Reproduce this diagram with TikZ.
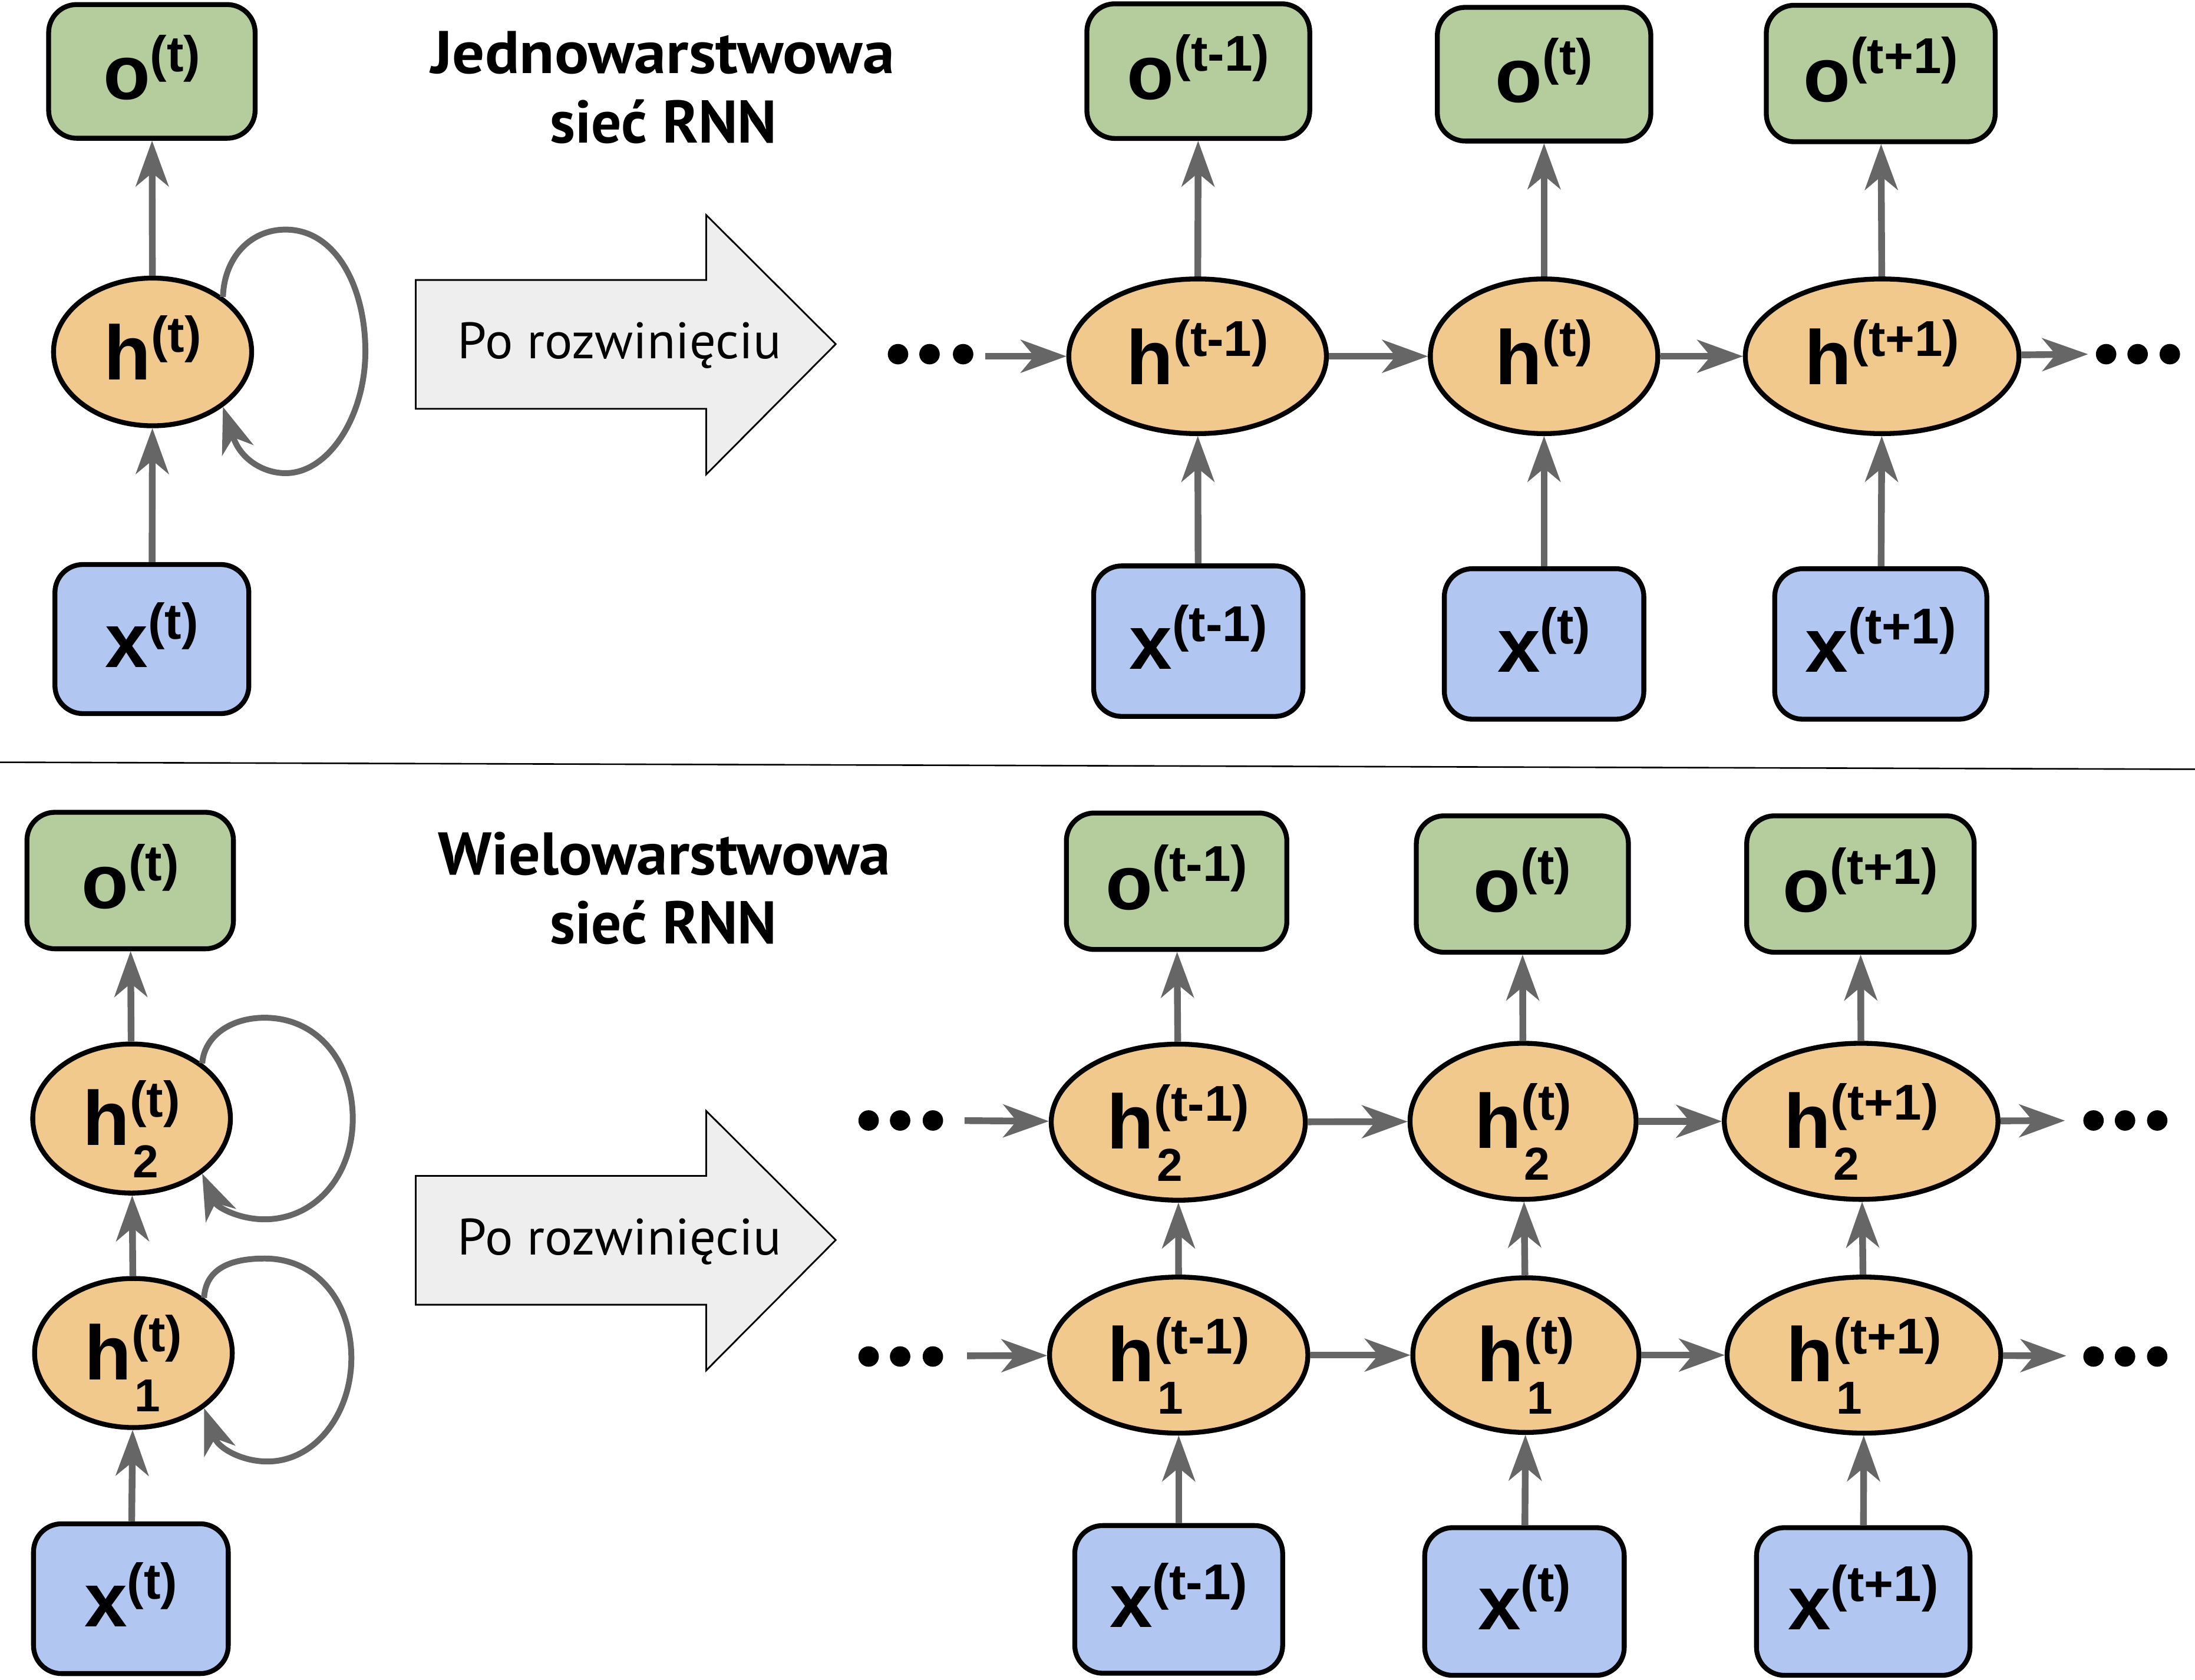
\documentclass[tikz,border=0pt]{standalone}
\usepackage{fontspec}
\usepackage{graphicx}
\usetikzlibrary{arrows.meta,shapes.geometric}
\newfontfamily\labfont{Liberation Sans}
\newfontfamily\ptfont{PT Sans}
\definecolor{cgreen}{RGB}{181,204,157}
\definecolor{corange}{RGB}{242,201,141}
\definecolor{cblue}{RGB}{178,198,242}
\definecolor{cgray}{RGB}{102,102,102}
\definecolor{cfill}{RGB}{238,238,238}
\newcommand\lab[2]{{\fontsize{55}{55}\selectfont #1}\raisebox{20pt}{\fontsize{36}{36}\selectfont (#2)}\rule[-6pt]{0pt}{6pt}}
\newcommand\labs[3]{{\fontsize{55}{55}\selectfont #1}\rlap{\smash{\hspace{2pt}\raisebox{-23pt}{\fontsize{33}{33}\selectfont #3}}}\raisebox{20pt}{\fontsize{36}{36}\selectfont (#2)}\rule[-8pt]{0pt}{8pt}}
\newcommand\ttl[3]{\resizebox{#1pt}{\height}{\ptfont\bfseries\fontsize{#2}{#2}\selectfont #3}}
\tikzset{
  sz/.style 2 args={minimum width={#1pt-3.5pt}, minimum height={#2pt-3.5pt}},
  box/.style={draw, line width=3.5pt, rounded corners=20pt, inner sep=0pt, font=\labfont\bfseries},
  ob/.style={box, fill=cgreen},
  xb/.style={box, fill=cblue},
  hs/.style={ellipse, draw, line width=3.5pt, fill=corange, inner sep=0pt, font=\labfont\bfseries},
  arr/.style={draw=cgray, line width=4.8pt, -{Stealth[length=33pt, width=24pt, inset=10pt, line width=0pt]}},
  loop/.style={arr, line width=4.2pt},
  bigarrow/.style={fill=cfill, draw=black, line width=1.2pt, line join=miter},
  dot/.style={fill=black}
}
\begin{document}
\begin{tikzpicture}[x=1pt,y=-1pt]
\fill[white] (0,0) rectangle (1568,1200);
\useasboundingbox (0,0) rectangle (1568,1200);

% ---------- top: single layer ----------
\node[anchor=base] (t1a) at (473.5,52.6) {\ttl{331}{43}{Jednowarstwowa}};
\node[anchor=base] (t1b) at (474,102) {\ttl{162}{43}{sieć RNN}};

\node[ob, sz={151}{99}] (oT0) at (108.5,51) {\lab{o}{t}};
\node[hs, sz={145}{109}] (hT0) at (109,251.4) {\lab{h}{t}};
\node[xb, sz={142}{110}] (xT0) at (108.5,456.5) {\lab{x}{t}};

\node[ob, sz={162.7}{99.7}] (oT1) at (856,50.8) {\lab{o}{t-1}};
\node[hs, sz={187.5}{114}] (hT1) at (855.5,254.5) {\lab{h}{t-1}};
\node[xb, sz={153}{111}] (xT1) at (856,458) {\lab{x}{t-1}};
\node[ob, sz={156}{99}] (oT2) at (1103,53) {\lab{o}{t}};
\node[hs, sz={166}{114}] (hT2) at (1103,254.5) {\lab{h}{t}};
\node[xb, sz={146}{111}] (xT2) at (1103,460) {\lab{x}{t}};
\node[ob, sz={167}{101}] (oT3) at (1343.5,52.5) {\lab{o}{t+1}};
\node[hs, sz={199}{114}] (hT3) at (1344.5,254.5) {\lab{h}{t+1}};
\node[xb, sz={155}{111}] (xT3) at (1343.5,460) {\lab{x}{t+1}};

\draw[bigarrow] (297,200) -- (504.5,200) -- (504.5,153.6) -- (597,245.8) -- (504.5,338.9) -- (504.5,292) -- (297,292) -- cycle;
\node[anchor=base] (u1) at (442.5,256.3) {\resizebox{231pt}{\height}{\ptfont\fontsize{36.6}{36.6}\selectfont Po rozwinięciu}};

\draw[arr] (hT0) -- (oT0);
\draw[arr] (xT0) -- (hT0);
\draw[loop] (hT0.38) .. controls (160,185) and (178,164) .. (204,164) .. controls (240,164) and (261,205) .. (261,251) .. controls (261,297) and (235,338) .. (204,338) .. controls (188,338) and (172,328) .. (hT0.-38);

\foreach \n in {1,2,3} {
  \draw[arr] (hT\n) -- (oT\n);
  \draw[arr] (xT\n) -- (hT\n);
}
\draw[arr] (hT1) -- (hT2);
\draw[arr] (hT2) -- (hT3);
\foreach \x in {641.5,664,688} \fill[dot] (\x,253) circle (7.3pt);
\foreach \x in {1504.5,1527,1550} \fill[dot] (\x,253) circle (7.3pt);
\coordinate (dTa) at (704,254.5);
\coordinate (dTb) at (1491.5,253);
\draw[arr] (dTa) -- (hT1);
\draw[arr] (hT3) -- (dTb);

% ---------- separator ----------
\coordinate (sepL) at (0,544.5);
\coordinate (sepR) at (1568,549.5);
\draw[line width=1.1pt] (sepL) -- (sepR);

% ---------- bottom: multi layer ----------
\node[anchor=base] (t2a) at (474.5,624.7) {\ttl{323}{43}{Wielowarstwowa}};
\node[anchor=base] (t2b) at (474,674.2) {\ttl{162}{43}{sieć RNN}};

\node[ob, sz={151}{101}] (oB0) at (93,629) {\lab{o}{t}};
\node[hs, sz={144.7}{110}] (h2B0) at (94,799) {\labs{h}{t}{2}};
\node[hs, sz={144.7}{110}] (h1B0) at (95.3,966.5) {\labs{h}{t}{1}};
\node[xb, sz={142.6}{110.5}] (xB0) at (93.5,1142) {\lab{x}{t}};

\node[ob, sz={161}{101}] (oB1) at (840.5,629.5) {\lab{o}{t-1}};
\node[hs, sz={185}{115}] (h2B1) at (841.7,801.6) {\labs{h}{t-1}{2}};
\node[hs, sz={188}{115}] (h1B1) at (842,968) {\labs{h}{t-1}{1}};
\node[xb, sz={152}{109}] (xB1) at (842,1142.5) {\lab{x}{t-1}};
\node[ob, sz={155}{101}] (oB2) at (1087.5,631.5) {\lab{o}{t}};
\node[hs, sz={165}{115}] (h2B2) at (1088,801) {\labs{h}{t}{2}};
\node[hs, sz={165}{114}] (h1B2) at (1090,968) {\labs{h}{t}{1}};
\node[xb, sz={146}{109}] (xB2) at (1089,1144) {\lab{x}{t}};
\node[ob, sz={166}{101}] (oB3) at (1329,631.5) {\lab{o}{t+1}};
\node[hs, sz={199}{115}] (h2B3) at (1329.5,801) {\labs{h}{t+1}{2}};
\node[hs, sz={199}{115}] (h1B3) at (1331.5,968) {\labs{h}{t+1}{1}};
\node[xb, sz={156}{109}] (xB3) at (1331,1144) {\lab{x}{t+1}};

\draw[bigarrow] (297,840) -- (504.5,840) -- (504.5,793.6) -- (597,885.8) -- (504.5,978.9) -- (504.5,932) -- (297,932) -- cycle;
\node[anchor=base] (u2) at (442.5,896.3) {\resizebox{231pt}{\height}{\ptfont\fontsize{36.6}{36.6}\selectfont Po rozwinięciu}};

\foreach \n in {0,1,2,3} {
  \draw[arr] (h2B\n) -- (oB\n);
  \draw[arr] (h1B\n) -- (h2B\n);
  \draw[arr] (xB\n) -- (h1B\n);
}
\draw[loop] (h2B0.38) .. controls (146,740) and (165,727) .. (189,727) .. controls (228,727) and (252,760) .. (252,799) .. controls (252,840) and (225,871) .. (189,871) .. controls (170,871) and (155,862) .. (h2B0.-38);
\draw[loop] (h1B0.38) .. controls (147,906) and (165,899) .. (189,899) .. controls (228,899) and (251,932) .. (251,970) .. controls (251,1010) and (225,1044) .. (191,1044) .. controls (172,1044) and (156,1034) .. (h1B0.-38);

\draw[arr] (h2B1) -- (h2B2);
\draw[arr] (h2B2) -- (h2B3);
\draw[arr] (h1B1) -- (h1B2);
\draw[arr] (h1B2) -- (h1B3);
\foreach \y in {800.4,969} {
  \foreach \x in {620.5,643,666.4} \fill[dot] (\x,\y) circle (7.3pt);
  \foreach \x in {1495.5,1518,1541} \fill[dot] (\x,\y) circle (7.3pt);
}
\coordinate (d2a) at (689,800.5);
\coordinate (d1a) at (690.8,968.5);
\coordinate (d2b) at (1475,800.5);
\coordinate (d1b) at (1476,968.5);
\draw[arr] (d2a) -- (h2B1);
\draw[arr] (d1a) -- (h1B1);
\draw[arr] (h2B3) -- (d2b);
\draw[arr] (h1B3) -- (d1b);
\end{tikzpicture}
\end{document}
